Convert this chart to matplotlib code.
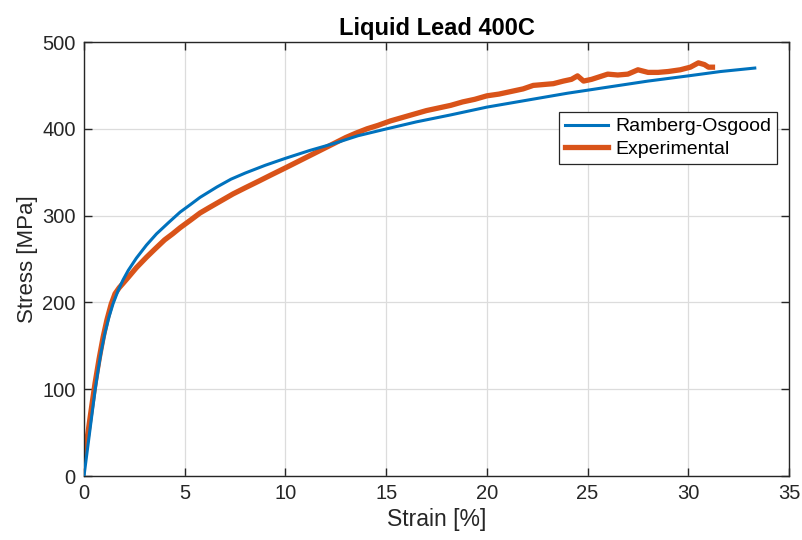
import matplotlib
matplotlib.use("Agg")
import matplotlib.pyplot as plt

# Ramberg-Osgood fit
ro_strain = [0.0, 0.1, 0.2, 0.3, 0.4, 0.55, 0.7, 0.85, 1.04, 1.25, 1.45, 1.7, 1.94, 2.2, 2.6,
             3.1, 3.6, 4.2, 4.77, 5.3, 5.76, 6.6, 7.3, 8.0, 9.0, 10.0, 11.2, 12.4, 13.6,
             14.85, 16.5, 18.2, 20.0, 22.0, 24.0, 26.0, 28.0, 30.0, 31.6, 33.3]
ro_stress = [0, 18, 36, 54, 72, 99, 122, 143, 165, 184, 199, 214, 226, 237, 251,
             266, 279, 292, 304, 313, 321, 333, 342, 349, 358, 366, 375, 383, 392,
             399, 408, 416, 425, 433, 441, 448, 455, 461, 466, 470]

# Experimental curve
exp_strain = [0.0, 0.1, 0.2, 0.35, 0.55, 0.75, 0.95, 1.14, 1.35, 1.54, 1.75, 1.94, 2.2, 2.6,
              3.1, 3.5, 4.0, 4.4, 4.77, 5.3, 5.76, 6.2, 6.8, 7.4, 8.0, 8.7, 9.3, 10.0,
              10.6, 11.2, 11.8, 12.4, 13.0, 13.5, 14.05, 14.6, 15.2, 15.8, 16.4, 17.0,
              17.6, 18.2, 18.8, 19.4, 20.0, 20.6, 21.2, 21.8, 22.3, 22.8, 23.3, 23.8,
              24.2, 24.5, 24.8, 25.2, 25.6, 26.0, 26.5, 27.0, 27.5, 28.0, 28.5, 29.0,
              29.6, 30.1, 30.5, 30.8, 31.0, 31.2]
exp_stress = [22, 35, 50, 75, 107, 135, 160, 180, 198, 210, 217, 222, 229, 240,
              252, 261, 272, 279, 286, 295, 303, 309, 317, 325, 332, 340, 347, 355,
              362, 369, 376, 383, 390, 395, 400, 404, 409, 413, 417, 421,
              424, 427, 431, 434, 438, 440, 443, 446, 450, 451, 452, 455,
              457, 461, 455, 457, 460, 463, 462, 463, 468, 465, 465, 466,
              468, 471, 476, 474, 471, 471]

plt.rcParams['font.family'] = ['Liberation Sans', 'DejaVu Sans']

fig = plt.figure(figsize=(8.03, 5.40), dpi=100)
ax = fig.add_axes([0.1046, 0.1185, 0.878, 0.8037])

ax.plot(ro_strain, ro_stress, color='#0072BD', linewidth=2.2, label='Ramberg-Osgood', zorder=3)
ax.plot(exp_strain, exp_stress, color='#D95319', linewidth=3.8, label='Experimental', zorder=2)

ax.set_xlim(0, 35)
ax.set_ylim(0, 500)
ax.set_xticks(range(0, 36, 5))
ax.set_yticks(range(0, 501, 100))
ax.grid(True, color='#dcdcdc', linewidth=0.9)
ax.set_axisbelow(True)
ax.tick_params(direction='in', length=6, width=1, top=True, right=True,
               labelsize=14.5, colors='#262626', pad=6)
for s in ax.spines.values():
    s.set_color('#262626')
    s.set_linewidth(1)

ax.set_xlabel('Strain [%]', fontsize=16.5, color='#262626', labelpad=3)
ax.set_ylabel('Stress [MPa]', fontsize=16, color='#262626', labelpad=3)
ax.set_title('Liquid Lead 400C', fontsize=17, fontweight='bold', pad=5)

leg = ax.legend(loc='upper right', bbox_to_anchor=(0.983, 0.8387), fontsize=14,
                fancybox=False, framealpha=1, edgecolor='#262626',
                handlelength=2.25, borderpad=0.3, labelspacing=0.25, handletextpad=0.35,
                borderaxespad=0)
leg.get_frame().set_linewidth(0.9)

fig.savefig('out.png', dpi=100)
